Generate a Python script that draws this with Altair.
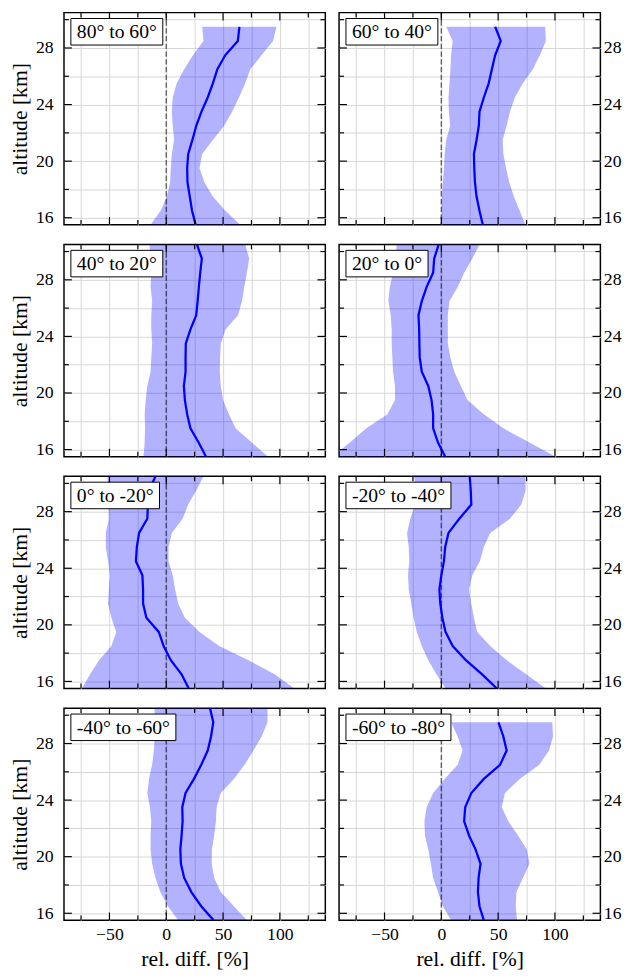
import altair as alt
import pandas as pd

# altitude levels [km]
ALT_29 = [15.5, 16.5, 17.5, 18.5, 19.5, 20.5, 21.5, 22.5, 23.5, 24.5, 25.5, 26.5, 27.5, 28.5, 29.5]
ALT_30 = [15.5, 16.5, 17.5, 18.5, 19.5, 20.5, 21.5, 22.5, 23.5, 24.5, 25.5, 26.5, 27.5, 28.5, 29.5, 30.5]

# latitude bands
LABELS = ["80° to 60°", "60° to 40°", "40° to 20°", "20° to 0°",
          "0° to -20°", "-20° to -40°", "-40° to -60°", "-60° to -80°"]

# mean relative difference [%] and spread (lower / upper)
MEAN_1 = [25.9, 22.7, 20.7, 18.7, 18.4, 19.3, 23, 26.4, 31, 36.5, 41, 45, 52, 63, 64.4]
LOW_1 = [-13.8, -5, 0.6, 3.4, 4, 4.9, 6.9, 5.7, 4.9, 5.7, 9.2, 15.8, 23.6, 32.8, 31.6]
HIGH_1 = [65, 52, 41, 33.6, 29.3, 31.6, 41, 51, 58, 64, 69.5, 74, 84, 94, 97]

MEAN_2 = [36.5, 33.6, 31, 29.6, 29, 28.7, 31, 33, 33.6, 37.4, 41.7, 44.5, 47.4, 52.3, 47.4]
LOW_2 = [0, 0, 0.6, 1.4, 2.3, 2.9, 4.3, 7.8, 6.6, 6.3, 7.2, 8, 8.6, 10, 4.3]
HIGH_2 = [73.9, 69, 63.8, 59.8, 57, 54.6, 54, 57.5, 60.4, 64.7, 71.8, 80.5, 86.8, 92, 91.4]

MEAN_3 = [35, 28.5, 21.3, 18.4, 16.4, 15.5, 17, 17, 17.2, 21.3, 26.4, 27.6, 28.7, 29.9, 31.3, 27]
LOW_3 = [-20.1, -19, -18.7, -19, -18.1, -16.7, -13.8, -13.2, -12.4, -13.2, -13.2, -12.4, -13.8, -13.2, -13.8, -14.7]
HIGH_3 = [89.7, 75.3, 61, 55.2, 50, 48, 47.1, 47.4, 48, 52.3, 63.2, 66.7, 68.7, 71, 73, 69.5]

MEAN_4 = [3.4, -2.9, -7.2, -7.2, -8.6, -11.5, -17.2, -19, -19.3, -19.5, -20.1, -17.2, -12.9, -7.2, -6.3, -2.3]
LOW_4 = [-96, -80.5, -66, -47.4, -40.8, -40.8, -42.5, -43.1, -43.7, -43.7, -44.5, -46.6, -45.4, -42.5, -40.2, -39.4]
HIGH_4 = [100.6, 77.6, 54.6, 37.4, 23, 17.2, 11.5, 8, 5.7, 5.7, 5.7, 7.2, 14.4, 20.1, 27.3, 33.6]

MEAN_5 = [19.8, 13.5, 4, -2.3, -6.6, -17.5, -20.4, -20.4, -21, -26.7, -25.9, -23.9, -16.7, -16.1, -15.2, -9.5]
LOW_5 = [-74.2, -67, -59.2, -48.3, -44, -48.3, -51.2, -50.6, -49.7, -51.2, -53.2, -53.2, -50.6, -51.2, -51.7, -51.7]
HIGH_5 = [112.7, 95.4, 72.4, 46.6, 29.3, 16.4, 10.6, 7.8, 5.7, 2, 2, 4.9, 14.4, 19.3, 26.4, 32.8]

MEAN_6 = [48.9, 35.9, 21.6, 10, 3.7, 0.9, -0.9, -1.7, 0, 2.3, 3.4, 6.3, 15.8, 26.4, 25.9, 25]
LOW_6 = [3.7, -4.3, -11.5, -17.2, -21.6, -24.4, -26.4, -28.7, -29.3, -28.2, -28.7, -30.2, -27.3, -23, -22.4, -23.9]
HIGH_6 = [92, 74.7, 57.5, 43.1, 31.6, 28.7, 26.4, 24.4, 27.3, 33.9, 37.4, 43.1, 60.4, 70.4, 74.2, 73.9]

MEAN_7 = [41.7, 30.8, 22.1, 15.8, 12.9, 12.4, 13.5, 14.4, 14.1, 17, 24.4, 30.8, 36.5, 39.4, 41.4, 38.5]
LOW_7 = [10.6, 1.4, -5.2, -9.5, -12.4, -13.8, -13.8, -13.2, -14.4, -16.7, -15.2, -12.4, -10.9, -10.3, -10.3, -10.3]
HIGH_7 = [71, 59.5, 48, 42.2, 40, 40.2, 42.2, 43.7, 44.3, 48, 59.5, 69, 76.7, 84, 89.1, 89.1]

MEAN_8 = [37.4, 33.6, 32.2, 32.8, 34.5, 30.2, 24.4, 20.1, 21, 26.4, 37.4, 51.7, 57.5, 54.6, 50.3]
LOW_8 = [8.6, 1.4, -2.9, -7.2, -9.2, -11.5, -14.4, -14.9, -12.9, -7.2, 2.9, 14.4, 18.7, 14.4, 8.6]
HIGH_8 = [66.7, 65.5, 66.1, 71.8, 77.6, 75.3, 67.5, 58.9, 53.2, 56, 69, 86.2, 94.8, 98.3, 97.7]

# axis ticks / grid
X_GRID = [-75, -50, -25, 0, 25, 50, 75, 100, 125]
X_MAJOR = [-50, 0, 50, 100]
X_MINOR = [-75, -25, 25, 75, 125]
Y_GRID = [16, 18, 20, 22, 24, 26, 28]
Y_TOPGRID = [30]
Y_MAJOR = [16, 20, 24, 28]
Y_MINOR = [18, 22, 26, 30]

FONT = "Liberation Serif"
W, H = 266, 216
BOX_FS = 20
LABEL_FS = 18
TITLE_FS = 22
GRID = "#d6d6d6"

xs = alt.Scale(domain=[-90, 140], nice=False, zero=False)
ys = alt.Scale(domain=[15.5, 30.5], nice=False, zero=False)

common = dict(ticks=False, domain=False, labelFont=FONT, titleFont=FONT,
              labelFontSize=LABEL_FS, titleFontSize=TITLE_FS,
              labelColor="black", titleColor="black", titleFontWeight="normal",
              gridColor=GRID, gridWidth=1, labelFlush=False, labelOverlap=False)
font_cfg = dict(labelFont=FONT, titleFont=FONT, labelFontSize=LABEL_FS,
                titleFontSize=TITLE_FS, titleFontWeight="normal")


def text_width(s, fs):
    em = {"-": 0.333, "°": 0.4, " ": 0.25, "t": 0.278, "o": 0.5}
    return sum(em.get(c, 0.5) for c in s) * fs


def axes_for(row, col):
    if row == 3:
        xax = alt.Axis(values=X_GRID, orient="bottom",
                       labelExpr="datum.value % 50 == 0 ? datum.label : ''",
                       labelPadding=6, titlePadding=5, **common)
        xt = "rel. diff. [%]"
    else:
        xax = alt.Axis(values=X_GRID, orient="bottom", labels=False, **common)
        xt = None
    if col == 0:
        yax = alt.Axis(values=Y_GRID, orient="left",
                       labelExpr="datum.value % 4 == 0 ? datum.label : ''",
                       labelPadding=11, titlePadding=4, **common)
        yt = "altitude [km]"
    else:
        yax = alt.Axis(values=Y_GRID, orient="right",
                       labelExpr="datum.value % 4 == 0 ? datum.label : ''",
                       labelPadding=3, **common)
        yt = None

    def X(f):
        return alt.X(f, scale=xs, axis=xax, title=xt)

    def Y(f):
        return alt.Y(f, scale=ys, axis=yax, title=yt)

    return X, Y


def tick_layer(vals, axis, side, length, X, Y):
    d = pd.DataFrame({"v": vals})
    base = alt.Chart(d).mark_rule(color="black", strokeWidth=1.2)
    if axis == "x":
        y0 = H if side == "bottom" else 0
        y1 = H - length if side == "bottom" else length
        return base.encode(x=X("v:Q"), y=alt.value(y0), y2=alt.value(y1))
    x0 = 0 if side == "left" else W
    x1 = length if side == "left" else W - length
    return base.encode(y=Y("v:Q"), x=alt.value(x0), x2=alt.value(x1))


def panel(label, alts, mean, low, high, row, col):
    df = pd.DataFrame({"alt": alts, "mean": mean, "low": low, "high": high})
    X, Y = axes_for(row, col)

    # grid line at the top value (kept off the axis so no empty label takes room)
    topgrid = alt.Chart(pd.DataFrame({"g": Y_TOPGRID})).mark_rule(
        color=GRID, strokeWidth=1).encode(y=Y("g:Q"))

    band = alt.Chart(df).mark_area(color="blue", opacity=0.3,
                                   orient="horizontal", clip=True).encode(
        x=X("low:Q"), x2="high:Q", y=Y("alt:Q"))

    zero = alt.Chart(pd.DataFrame({"z": [0]})).mark_rule(
        color="black", opacity=0.55, strokeWidth=1.5, strokeDash=[5.5, 2.4]
    ).encode(x=X("z:Q"))

    line = alt.Chart(df).mark_line(color="blue", strokeWidth=2.3, clip=True).encode(
        x=X("mean:Q"), y=Y("alt:Q"), order="alt:Q")

    ticks = []
    for side in ["bottom", "top"]:
        ticks.append(tick_layer(X_MAJOR, "x", side, 8, X, Y))
        ticks.append(tick_layer(X_MINOR, "x", side, 5, X, Y))
    for side in ["left", "right"]:
        ticks.append(tick_layer(Y_MAJOR, "y", side, 8, X, Y))
        ticks.append(tick_layer(Y_MINOR, "y", side, 5, X, Y))

    bw = text_width(label, BOX_FS) + 12
    lab = pd.DataFrame({"label": [label]})
    box = alt.Chart(lab).mark_rect(fill="white", stroke="black", strokeWidth=1).encode(
        x=alt.value(7), x2=alt.value(7 + bw), y=alt.value(6), y2=alt.value(33))
    txt = alt.Chart(lab).mark_text(font=FONT, fontSize=BOX_FS, color="black",
                                   align="center", baseline="middle").encode(
        x=alt.value(7 + bw / 2), y=alt.value(20), text="label:N")

    return alt.layer(topgrid, band, zero, line, *ticks, box, txt).properties(width=W, height=H)


series = [
    (ALT_29, MEAN_1, LOW_1, HIGH_1),
    (ALT_29, MEAN_2, LOW_2, HIGH_2),
    (ALT_30, MEAN_3, LOW_3, HIGH_3),
    (ALT_30, MEAN_4, LOW_4, HIGH_4),
    (ALT_30, MEAN_5, LOW_5, HIGH_5),
    (ALT_30, MEAN_6, LOW_6, HIGH_6),
    (ALT_30, MEAN_7, LOW_7, HIGH_7),
    (ALT_29, MEAN_8, LOW_8, HIGH_8),
]

rows = []
for r in range(4):
    cells = []
    for c in range(2):
        i = 2 * r + c
        a, m, lo, hi = series[i]
        cells.append(panel(LABELS[i], a, m, lo, hi, r, c))
    rows.append(alt.hconcat(*cells, spacing=10))

# .configure() replaces the whole config, so it goes first
chart = (
    alt.vconcat(*rows, spacing=15)
    .properties(padding={"left": 0, "top": -6, "right": 0, "bottom": 0})
    .configure(style={"guide-label": {"font": FONT, "fontSize": LABEL_FS},
                      "guide-title": {"font": FONT, "fontSize": TITLE_FS}})
    .configure_view(stroke="black", strokeWidth=1.5)
    .configure_axis(**font_cfg)
    .configure_axisX(**font_cfg)
    .configure_axisY(**font_cfg)
    .configure_text(font=FONT)
)

chart.save("out.html", embed_options={"renderer": "svg", "actions": False})
